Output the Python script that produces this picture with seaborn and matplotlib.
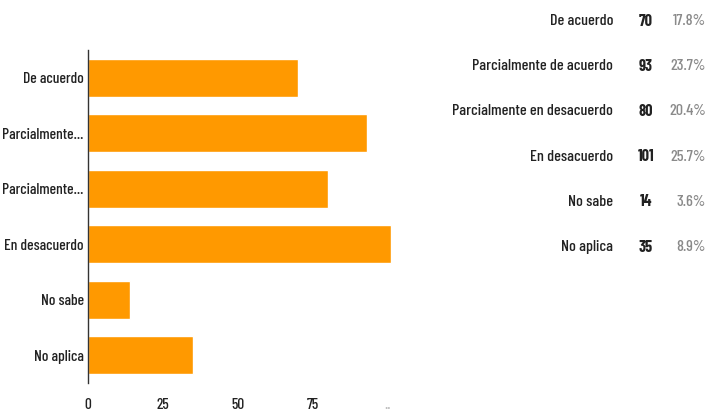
import matplotlib
matplotlib.use("Agg")
import matplotlib.pyplot as plt
import seaborn as sns
import pandas as pd

# Survey responses
categories = ["De acuerdo", "Parcialmente de acuerdo", "Parcialmente en desacuerdo",
              "En desacuerdo", "No sabe", "No aplica"]
counts = [70, 93, 80, 101, 14, 35]
x_ticks = [0, 25, 50, 75, 100]
x_tick_labels = ["0", "25", "50", "75", ".."]

sns.set_style("white")
plt.rcParams["font.family"] = ["Barlow Condensed", "DejaVu Sans"]
plt.rcParams["font.weight"] = 500

df = pd.DataFrame({"respuesta": categories, "n": counts})
total = sum(counts)

W, H = 708, 417
fig = plt.figure(figsize=(W / 100, H / 100), dpi=100)
ax = fig.add_axes([88 / W, 1 - 383 / H, 306 / W, 333 / H])

sns.barplot(data=df, y="respuesta", x="n", order=categories, orient="h",
            color="#ff9900", saturation=1, width=0.68, ax=ax)

ax.set_xlim(0, 102)
ax.set_ylim(5.5, -0.5)
ax.set_xlabel("")
ax.set_ylabel("")

def short(label, limit=15):
    return label if len(label) <= limit else label.split()[0] + "..."

ax.set_yticks(range(len(categories)))
ax.set_yticklabels([short(c) for c in categories], fontsize=11.2, color="#222222")
ax.set_xticks(x_ticks)
ax.set_xticklabels(x_tick_labels, fontsize=11, color="#222222")
ax.get_xticklabels()[-1].set_color("#bbbbbb")
ax.tick_params(axis="both", length=0)
ax.tick_params(axis="x", pad=11)
ax.tick_params(axis="y", pad=3)

for side in ["top", "right", "bottom"]:
    ax.spines[side].set_visible(False)
ax.spines["left"].set_color("#333333")
ax.spines["left"].set_linewidth(1)

# Summary table to the right
row0, step = 21, 45.2
for i, (cat, n) in enumerate(zip(categories, counts)):
    y = 1 - (row0 + i * step) / H
    fig.text(613 / W, y, cat, ha="right", va="center", fontsize=11.6, color="#222222")
    fig.text(646 / W, y, str(n), ha="center", va="center", fontsize=11.6,
             fontweight="bold", color="#222222")
    fig.text(706 / W, y, f"{100 * n / total:.1f}%", ha="right", va="center",
             fontsize=11.6, color="#8a8a8a")

fig.savefig("out.png", dpi=100)
